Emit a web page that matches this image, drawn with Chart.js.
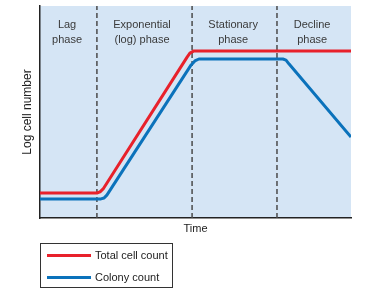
<!DOCTYPE html>
<html>
<head>
<meta charset="utf-8">
<script src="https://cdn.jsdelivr.net/npm/chart.js@4"></script>
<style>
  html, body { margin: 0; padding: 0; background: #fff; }
  #wrap { position: relative; width: 369px; height: 291px; }
  #legend {
    position: absolute; left: 40px; top: 243px; width: 131px; height: 43px;
    border: 1.5px solid #333; font: 11px "Liberation Sans", Arial, sans-serif; color: #222;
  }
  .item { position: absolute; left: 6px; height: 14px; display: flex; align-items: center; }
  .swatch { width: 44px; height: 3px; margin-right: 4px; }
</style>
</head>
<body>
<div id="wrap">
  <canvas id="growthChart" width="369" height="291"></canvas>
  <div id="legend"></div>
</div>
<script>
// time axis 0..100, log cell number 0..100 (arbitrary units)
const totalTime = [0, 18.3, 19.3, 20.3, 47.3, 48.2, 49.5, 100];
const totalCount = [11.8, 11.8, 12.3, 13.7, 75.9, 77.8, 78.8, 78.8];
const colonyTime = [0, 19.6, 20.6, 21.5, 48.6, 49.8, 51.1, 78.1, 79.1, 80.1, 100];
const colonyCount = [9.0, 9.0, 9.4, 10.8, 72.2, 74.1, 75.0, 75.0, 74.5, 72.6, 38.2];

const phaseBounds = [18.3, 48.9, 76.2];
const phaseCenters = [8.7, 32.8, 62.1, 87.5];
const phaseLabels = [["Lag", "phase"], ["Exponential", "(log) phase"], ["Stationary", "phase"], ["Decline", "phase"]];

const FONT = '"Liberation Sans", Arial, sans-serif';

function toPoints(xs, ys) {
    return xs.map((x, i) => ({ x: x, y: ys[i] }));
}

const datasets = [
    {
        label: 'Total cell count',
        data: toPoints(totalTime, totalCount),
        borderColor: '#e8212b',
        borderWidth: 3,
        borderJoinStyle: 'round',
        pointRadius: 0,
        tension: 0
    },
    {
        label: 'Colony count',
        data: toPoints(colonyTime, colonyCount),
        borderColor: '#0b72bb',
        borderWidth: 3,
        borderJoinStyle: 'round',
        pointRadius: 0,
        tension: 0
    }
];

// phase separators
phaseBounds.forEach(t => {
    datasets.push({
        label: '',
        data: [{ x: t, y: 0 }, { x: t, y: 100 }],
        borderColor: '#4a4a4a',
        borderWidth: 1.5,
        borderDash: [5, 3],
        pointRadius: 0,
        isSeparator: true
    });
});

const plotBackground = {
    id: 'plotBackground',
    beforeDraw(chart) {
        const { ctx, chartArea: a } = chart;
        ctx.save();
        ctx.fillStyle = '#d5e5f5';
        ctx.fillRect(a.left, a.top, a.right - a.left, a.bottom - a.top);
        ctx.restore();
    }
};

const phaseText = {
    id: 'phaseText',
    afterDraw(chart) {
        const { ctx, chartArea: a } = chart;
        const x = chart.scales.x;
        ctx.save();
        ctx.font = '11px ' + FONT;
        ctx.fillStyle = '#3a3a3a';
        ctx.textAlign = 'center';
        ctx.textBaseline = 'alphabetic';
        phaseLabels.forEach((lines, i) => {
            const px = x.getPixelForValue(phaseCenters[i]);
            lines.forEach((s, j) => ctx.fillText(s, px, a.top + 22 + j * 15));
        });
        ctx.restore();
    }
};

new Chart(document.getElementById('growthChart'), {
    type: 'line',
    data: { datasets: datasets },
    options: {
        responsive: false,
        animation: false,
        layout: { padding: { top: 6, right: 18, bottom: 51, left: 0 } },
        plugins: { legend: { display: false }, tooltip: { enabled: false } },
        scales: {
            x: {
                type: 'linear', min: 0, max: 100,
                ticks: { display: false },
                grid: { display: true, color: 'rgba(0,0,0,0)', drawTicks: false },
                border: { display: true, color: '#222', width: 1.5 },
                title: { display: true, text: 'Time', color: '#222', font: { family: FONT, size: 11 }, padding: { top: 0, bottom: 4 } },
                afterFit(s) { s.height = 22; }
            },
            y: {
                type: 'linear', min: 0, max: 100,
                ticks: { display: false },
                grid: { display: true, color: 'rgba(0,0,0,0)', drawTicks: false },
                border: { display: true, color: '#222', width: 1.5 },
                title: { display: true, text: 'Log cell number', color: '#222', font: { family: FONT, size: 12 }, padding: { top: 20, bottom: 0 } },
                afterFit(s) { s.width = 40; }
            }
        }
    },
    plugins: [plotBackground, phaseText]
});

// legend box
const legend = document.getElementById('legend');
datasets.filter(d => !d.isSeparator).forEach((d, i) => {
    const item = document.createElement('div');
    item.className = 'item';
    item.style.top = (4 + i * 22) + 'px';
    item.innerHTML = `<span class="swatch" style="background:${d.borderColor}"></span><span>${d.label}</span>`;
    legend.appendChild(item);
});
</script>
</body>
</html>
